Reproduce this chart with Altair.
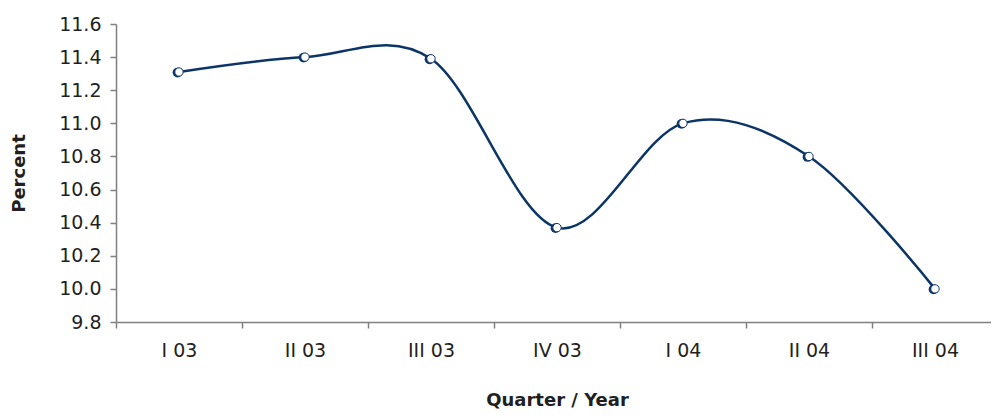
import altair as alt
import pandas as pd

quarters = ["I 03", "II 03", "III 03", "IV 03", "I 04", "II 04", "III 04"]
values = [11.31, 11.40, 11.39, 10.37, 11.00, 10.80, 10.00]
y_ticks = [9.8, 10.0, 10.2, 10.4, 10.6, 10.8, 11.0, 11.2, 11.4, 11.6]

df = pd.DataFrame({"quarter": quarters, "value": values})

FONT = "DejaVu Sans"
NAVY = "#0b3566"
GRAY = "#808080"
TEXT = "#231f20"

x = alt.X("quarter:N", sort=quarters,
          scale=alt.Scale(paddingInner=0, paddingOuter=0),
          axis=alt.Axis(title="Quarter / Year", labelAngle=0, tickBand="extent",
                        labelFontSize=19, labelPadding=13, titlePadding=31,
                        titleFontSize=18, titleFontWeight="bold"))
y = alt.Y("value:Q", scale=alt.Scale(domain=[9.8, 11.6], nice=False, zero=False),
          axis=alt.Axis(title="Percent", values=y_ticks, format=".1f",
                        labelFontSize=19, labelPadding=9, titlePadding=30,
                        titleFontSize=18, titleFontWeight="bold", grid=False))

line = alt.Chart(df).mark_line(interpolate="cardinal", tension=0, color=NAVY, strokeWidth=2.5).encode(x=x, y=y)
shadow = alt.Chart(df).mark_point(filled=True, fill=NAVY, size=95, opacity=1,
                                  shape="circle", xOffset=-1.5, yOffset=0.5).encode(x=x, y=y)
pts = alt.Chart(df).mark_point(filled=True, fill="white", stroke=NAVY, strokeWidth=1,
                               size=70, opacity=1, shape="circle").encode(x=x, y=y)

chart = (line + shadow + pts).properties(
    width=882, height=298,
    autosize=alt.AutoSizeParams(type="none"),
    padding={"left": 108, "top": 16, "right": -7, "bottom": 90},
).configure_view(stroke=None).configure_axis(
    domainColor=GRAY, tickColor=GRAY, tickSize=6, domainWidth=1.5, tickWidth=1.5,
    labelFont=FONT, titleFont=FONT, labelColor=TEXT, titleColor=TEXT,
)

chart.save("out.html", embed_options={"renderer": "svg", "actions": False})
